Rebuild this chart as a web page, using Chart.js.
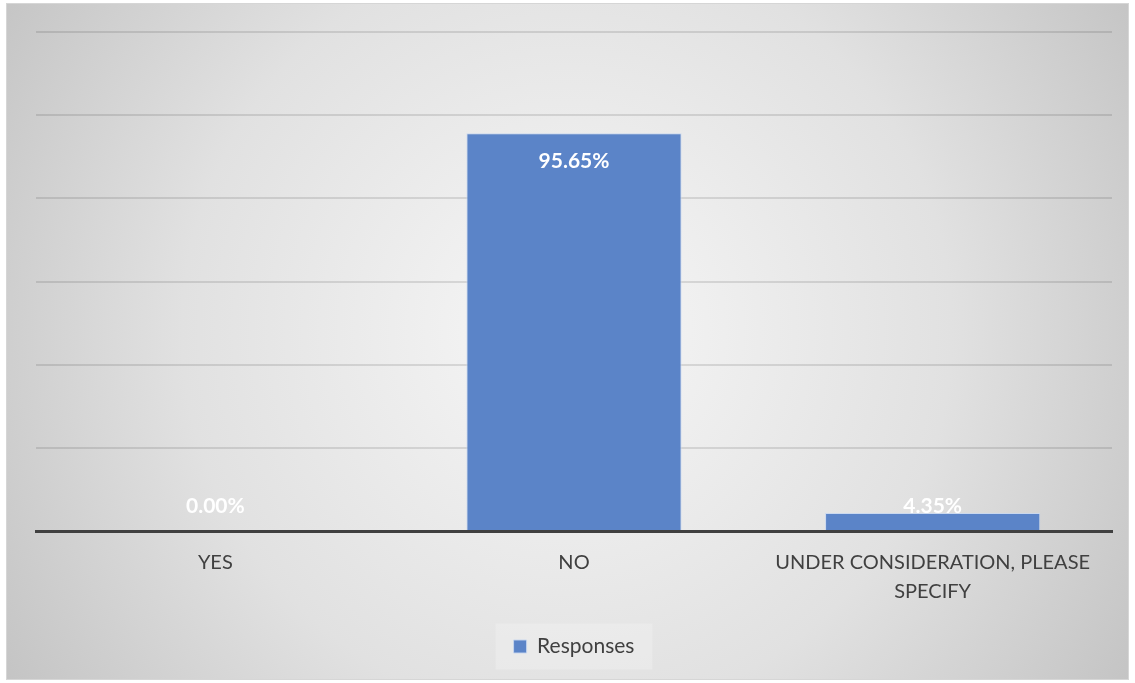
<!DOCTYPE html>
<html>
<head>
<meta charset="utf-8">
<script src="https://cdn.jsdelivr.net/npm/chart.js@4"></script>
<style>
  html, body { margin: 0; padding: 0; background: #fff; }
  #wrap { width: 1135px; height: 683px; }
</style>
</head>
<body>
<div id="wrap"><canvas id="chart" width="1135" height="683"></canvas></div>
<script>
// values
const categories = ['YES', 'NO', ['UNDER CONSIDERATION, PLEASE', 'SPECIFY']];
const responses = [0, 95.65, 4.35];
const seriesName = 'Responses';
const yMax = 120;
const yStep = 20;

const FONT = 'Lato, "Open Sans", sans-serif';

// gray radial backdrop + frame, and the soft box behind the legend
const backdrop = {
  id: 'backdrop',
  beforeDraw(chart) {
    const ctx = chart.ctx;
    ctx.save();
    const g = ctx.createRadialGradient(567, 330, 0, 567, 330, 700);
    g.addColorStop(0, '#f7f7f7');
    g.addColorStop(0.55, '#e1e1e1');
    g.addColorStop(1, '#c0c0c0');
    ctx.fillStyle = g;
    ctx.fillRect(6, 3, 1123, 677);
    ctx.strokeStyle = '#d6d6d6';
    ctx.lineWidth = 1;
    ctx.strokeRect(6.5, 3.5, 1122, 676);

    const hb = chart.legend && chart.legend.legendHitBoxes && chart.legend.legendHitBoxes[0];
    if (hb) {
      const cy = hb.top + hb.height / 2;
      ctx.fillStyle = 'rgba(255,255,255,0.22)';
      ctx.fillRect(hb.left - 18, cy - 23, hb.width + 36, 46);
    }
    ctx.restore();
  }
};

// white bold value labels, inside the top of each bar
const valueLabels = {
  id: 'valueLabels',
  afterDatasetsDraw(chart) {
    const ctx = chart.ctx;
    const meta = chart.getDatasetMeta(0);
    const base = chart.scales.y.getPixelForValue(0);
    ctx.save();
    ctx.font = 'bold 21px ' + FONT;
    ctx.fillStyle = '#ffffff';
    ctx.textAlign = 'center';
    ctx.textBaseline = 'middle';
    meta.data.forEach((bar, i) => {
      const y = Math.min(bar.y + 28, base - 25);
      ctx.fillText(responses[i].toFixed(2) + '%', bar.x, y);
    });
    ctx.restore();
  }
};

new Chart(document.getElementById('chart'), {
  type: 'bar',
  data: {
    labels: categories,
    datasets: [{
      label: seriesName,
      data: responses,
      backgroundColor: '#5b84c8',
      borderColor: 'rgba(200,215,240,0.9)',
      borderWidth: 1,
      categoryPercentage: 1,
      barPercentage: 0.6
    }]
  },
  options: {
    responsive: false,
    animation: false,
    layout: { padding: { top: 32, left: 36, right: 23, bottom: 16 } },
    scales: {
      x: {
        grid: { display: false },
        border: { color: '#404040', width: 3 },
        ticks: {
          color: '#404040',
          font: { family: FONT, size: 20, lineHeight: 1.45 },
          padding: 9,
          maxRotation: 0,
          autoSkip: false
        }
      },
      y: {
        min: 0,
        max: yMax,
        ticks: { display: false, stepSize: yStep },
        grid: { color: 'rgba(0,0,0,0.11)', lineWidth: 2, drawTicks: false },
        border: { display: false }
      }
    },
    plugins: {
      legend: {
        position: 'bottom',
        labels: {
          color: '#404040',
          font: { family: FONT, size: 21 },
          boxWidth: 13,
          boxHeight: 13,
          padding: 21
        }
      },
      tooltip: { enabled: false }
    }
  },
  plugins: [backdrop, valueLabels]
});
</script>
</body>
</html>
